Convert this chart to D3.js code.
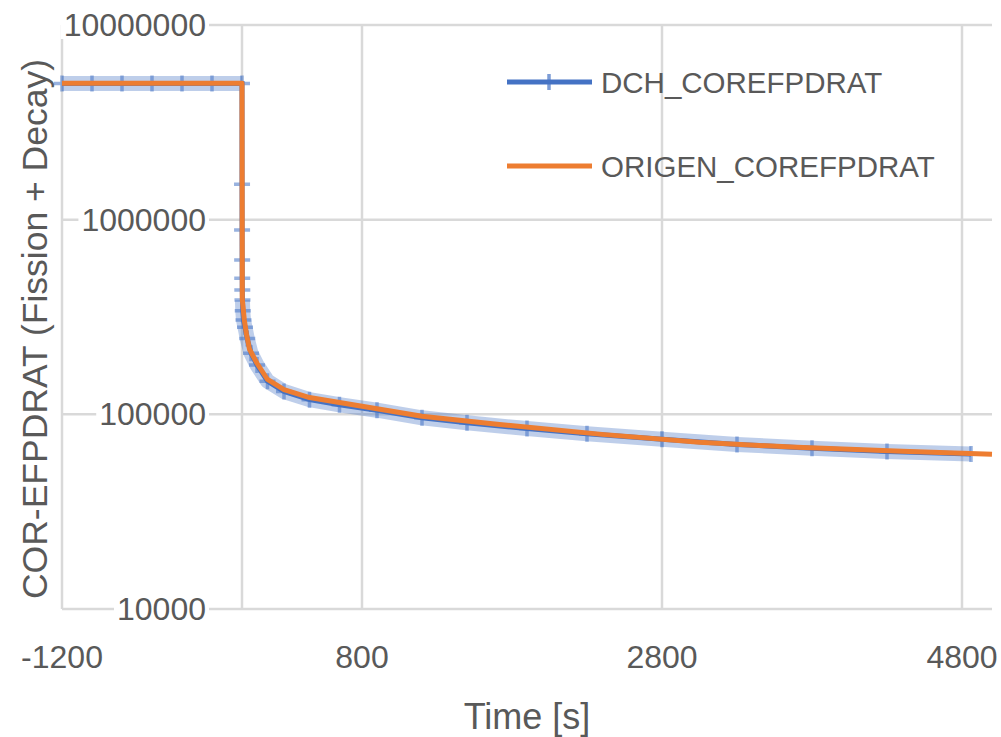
<!DOCTYPE html>
<html>
<head>
<meta charset="utf-8">
<script src="https://cdn.jsdelivr.net/npm/d3@7"></script>
<style>
  html, body { margin: 0; padding: 0; background: #fff; }
  svg text { font-family: "Liberation Sans", Arial, sans-serif; fill: #595959; }
</style>
</head>
<body>
<svg id="chart" width="1001" height="737"></svg>
<script>
// ORIGEN series
const origenTime  = [-1200, 0, 2, 15, 30, 50, 100, 170, 280, 450, 800, 1200, 1700, 2400, 3050, 3700, 4400, 4800, 5000];
const origenValue = [5.02e6, 5.02e6, 3.9e5, 3.07e5, 2.58e5, 2.16e5, 1.83e5, 1.51e5, 1.34e5, 1.22e5, 1.10e5, 9.77e4, 8.89e4, 7.89e4, 7.18e4, 6.77e4, 6.46e4, 6.31e4, 6.24e4];

// DCH series
const dchTime  = [-1200, -1000, -800, -600, -400, -200, 0, 0.2, 0.5, 1, 1.5, 2, 3, 5, 10, 20, 35, 60, 100, 170, 280, 450, 650, 900, 1200, 1500, 1900, 2300, 2800, 3300, 3800, 4300, 4860];
const dchValue = [5.0e6, 5.0e6, 5.0e6, 5.0e6, 5.0e6, 5.0e6, 5.0e6, 1.52e6, 8.85e5, 6.2e5, 5.0e5, 4.35e5, 3.87e5, 3.4e5, 3.05e5, 2.8e5, 2.45e5, 2.06e5, 1.79e5, 1.48e5, 1.31e5, 1.19e5, 1.12e5, 1.05e5, 9.6e4, 9.05e4, 8.45e4, 7.95e4, 7.45e4, 7.0e4, 6.7e4, 6.45e4, 6.25e4];

const xTicks = [-1200, 800, 2800, 4800];
const yTicks = [1e4, 1e5, 1e6, 1e7];
const seriesNames = ["DCH_COREFPDRAT", "ORIGEN_COREFPDRAT"];

const blue = "#4472c4", orange = "#ed7d31", grid = "#d9d9d9";

const svg = d3.select("#chart");
const x = d3.scaleLinear().domain([-1200, 5000]).range([62, 992]);
const y = d3.scaleLog().domain([1e4, 1e7]).range([609, 25]);

const dch = dchTime.map((t, i) => ({t, v: dchValue[i]}));
const origen = origenTime.map((t, i) => ({t, v: origenValue[i]}));

// grid
const g = svg.append("g");
g.selectAll(".hgrid").data(yTicks).enter().append("line")
  .attr("x1", x(-1200)).attr("x2", x(5000))
  .attr("y1", d => y(d)).attr("y2", d => y(d))
  .attr("stroke", grid).attr("stroke-width", 2.5);
g.selectAll(".vgrid").data(xTicks.concat([0])).enter().append("line")
  .attr("x1", d => x(d)).attr("x2", d => x(d))
  .attr("y1", y(1e7)).attr("y2", y(1e4))
  .attr("stroke", grid).attr("stroke-width", 2.5);

// y labels sit next to the axis, which crosses at t = 0
const yl = svg.append("g");
yTicks.forEach(v => {
  const t = yl.append("text")
    .attr("x", x(0) - 36).attr("y", y(v))
    .attr("text-anchor", "end").attr("dominant-baseline", "central")
    .style("font-size", "32px")
    .text(d3.format("d")(v));
  const b = t.node().getBBox();
  yl.insert("rect", "text").attr("x", b.x - 3).attr("y", b.y + 4)
    .attr("width", b.width + 6).attr("height", b.height - 8).attr("fill", "#fff");
});

// x labels
svg.selectAll(".xl").data(xTicks).enter().append("text")
  .attr("x", d => x(d)).attr("y", 657)
  .attr("text-anchor", "middle").attr("dominant-baseline", "central")
  .style("font-size", "32px")
  .text(d => d);

const line = d3.line().x(d => x(d.t)).y(d => y(d.v));
// the marker band only shows where the DCH points are dense
const band = d3.line().defined(d => d.t <= 0 || d.t >= 3).x(d => x(d.t)).y(d => y(d.v));

// DCH: dense marker band, line and + markers
svg.append("path").datum(dch)
  .attr("fill", "none").attr("stroke", blue).attr("stroke-opacity", 0.35)
  .attr("stroke-width", 15).attr("stroke-linejoin", "round")
  .attr("d", band);
svg.append("path").datum(dch)
  .attr("fill", "none").attr("stroke", blue).attr("stroke-width", 5)
  .attr("d", line);
svg.selectAll(".mk").data(dch).enter().append("path")
  .attr("transform", d => `translate(${x(d.t)},${y(d.v)})`)
  .attr("d", "M-8,0H8M0,-8V8")
  .attr("stroke", blue).attr("stroke-opacity", 0.55).attr("stroke-width", 3.5)
  .attr("fill", "none");

// ORIGEN
svg.append("path").datum(origen)
  .attr("fill", "none").attr("stroke", orange).attr("stroke-width", 5)
  .attr("stroke-linejoin", "round")
  .attr("d", line);

// legend
const lg = svg.append("g");
[blue, orange].forEach((c, i) => {
  const ly = 82 + i * 84;
  lg.append("line").attr("x1", 507).attr("x2", 592).attr("y1", ly).attr("y2", ly)
    .attr("stroke", c).attr("stroke-width", 5);
  if (i === 0) {
    lg.append("line").attr("x1", 549).attr("x2", 549).attr("y1", ly - 8).attr("y2", ly + 8)
      .attr("stroke", c).attr("stroke-opacity", 0.7).attr("stroke-width", 3.5);
  }
  lg.append("text").attr("x", 601).attr("y", ly)
    .attr("dominant-baseline", "central")
    .style("font-size", "29.5px")
    .text(seriesNames[i]);
});

// axis titles
svg.append("text")
  .attr("transform", "translate(35,329) rotate(-90)")
  .attr("text-anchor", "middle").attr("dominant-baseline", "central")
  .style("font-size", "35.5px")
  .text("COR-EFPDRAT (Fission + Decay)");
svg.append("text")
  .attr("x", 527).attr("y", 716)
  .attr("text-anchor", "middle").attr("dominant-baseline", "central")
  .style("font-size", "36px")
  .text("Time [s]");
</script>
</body>
</html>
